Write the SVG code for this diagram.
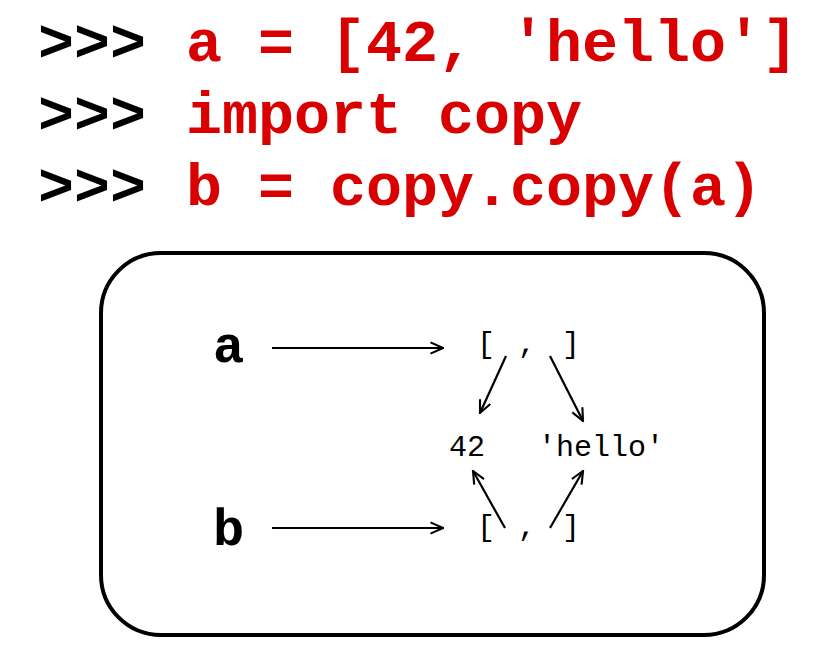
<svg xmlns="http://www.w3.org/2000/svg" width="832" height="663" viewBox="0 0 832 663">
<style>
.prompt{font-family:"Liberation Mono","Courier New",monospace;font-weight:bold;font-size:60px;fill:#000}
.code{font-family:"Liberation Mono","Courier New",monospace;font-weight:bold;font-size:60px;fill:#d80000}
.var{font-family:"Liberation Mono","Courier New",monospace;font-weight:bold;font-size:52px;fill:#000}
.val{font-family:"Liberation Mono","Courier New",monospace;font-size:30px;fill:#000}
.edge{stroke:#000;stroke-width:2.2;fill:none;marker-end:url(#ah)}
</style>
<defs>
<marker id="ah" viewBox="0 0 12 12" refX="11" refY="6" markerWidth="15" markerHeight="15" markerUnits="userSpaceOnUse" orient="auto">
<path d="M1,1.5 L11,6 L1,10.5" fill="none" stroke="#000" stroke-width="1.7"/>
</marker>
</defs>
<rect width="832" height="663" fill="#fff"/>
<g id="code">
<text x="38" y="61" class="prompt">&gt;&gt;&gt;</text><text x="186" y="61" class="code">a = [42, 'hello']</text>
<text x="38" y="133" class="prompt">&gt;&gt;&gt;</text><text x="186" y="133" class="code">import copy</text>
<text x="38" y="205" class="prompt">&gt;&gt;&gt;</text><text x="186" y="205" class="code">b = copy.copy(a)</text>
</g>
<g id="frame"><rect x="101" y="253" width="663" height="382" rx="60" ry="60" fill="none" stroke="#000" stroke-width="4"/></g>
<g id="node-a"><text x="213" y="362" class="var">a</text></g>
<g id="node-b"><text x="213" y="545" class="var">b</text></g>
<g id="list-a"><text x="477" y="353" class="val">[</text><text x="518" y="353" class="val">,</text><text x="562" y="353" class="val">]</text></g>
<g id="list-b"><text x="477" y="536" class="val">[</text><text x="518" y="536" class="val">,</text><text x="562" y="536" class="val">]</text></g>
<g id="val-42"><text x="449" y="456" class="val">42</text></g>
<g id="val-hello"><text x="538" y="456" class="val">'hello'</text></g>
<g id="connectors">
<line x1="272" y1="348" x2="443" y2="348" class="edge"/>
<line x1="272" y1="528" x2="443" y2="528" class="edge"/>
<line x1="506" y1="356" x2="480" y2="413" class="edge"/>
<line x1="550" y1="356" x2="583" y2="421" class="edge"/>
<line x1="505" y1="528" x2="473" y2="471" class="edge"/>
<line x1="550" y1="528" x2="583" y2="471" class="edge"/>
</g>
</svg>
